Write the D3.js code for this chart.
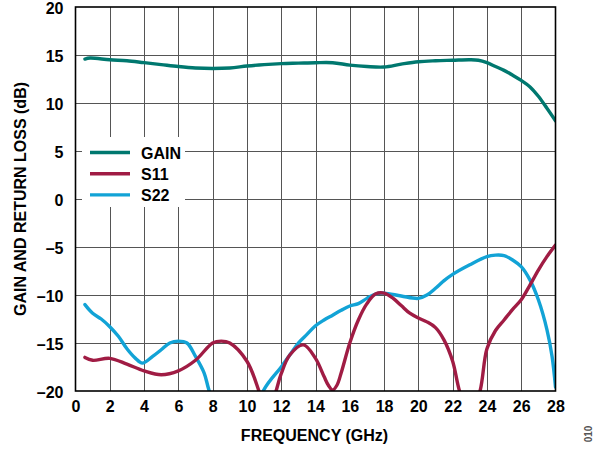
<!DOCTYPE html>
<html>
<head>
<meta charset="utf-8">
<script src="https://cdn.jsdelivr.net/npm/d3@7/dist/d3.min.js"></script>
<style>
  html, body { margin: 0; padding: 0; background: #fff; }
  svg { display: block; }
  text { font-family: "Liberation Sans", Arial, Helvetica, sans-serif; font-weight: bold; }
</style>
</head>
<body>
<script>
// Frequency (GHz) and measured response (dB) for each trace
const gainFreq = [0.55, 0.85, 2, 3, 4, 5, 6, 7, 8, 9, 10, 11, 12, 13, 14, 15, 16, 17, 18, 19, 20, 21, 22, 23, 23.5, 24, 24.5, 25, 25.5, 26, 26.5, 27, 27.5, 28];
const gainDb   = [14.58, 14.68, 14.5, 14.4, 14.2, 14.0, 13.8, 13.65, 13.6, 13.65, 13.85, 14.0, 14.1, 14.15, 14.2, 14.2, 13.95, 13.8, 13.75, 14.05, 14.3, 14.4, 14.45, 14.5, 14.45, 14.2, 13.8, 13.4, 12.9, 12.35, 11.7, 10.7, 9.45, 8.15];

const s11Freq = [0.55, 1, 2, 3, 4, 5, 6, 7, 8, 8.5, 9, 10, 10.7, 11.2, 11.7, 12, 12.5, 13.3, 14, 14.5, 14.75, 15, 15.25, 15.5, 16, 16.5, 17, 17.5, 18, 18.5, 19, 19.5, 20, 20.5, 21, 21.5, 22, 22.4, 23.0, 23.6, 24, 24.5, 25, 25.5, 26, 26.5, 27, 27.5, 28];
const s11Db   = [-16.5, -16.8, -16.6, -17.2, -17.9, -18.3, -17.9, -16.8, -15.0, -14.8, -15.0, -16.9, -20.0, -23, -20.0, -18.2, -16.25, -15.2, -16.6, -18.5, -19.4, -19.9, -19.4, -18.1, -15.0, -12.6, -10.9, -9.9, -9.8, -10.3, -11.1, -11.9, -12.4, -12.8, -13.4, -14.7, -16.9, -20, -23, -20, -15.6, -13.7, -12.6, -11.5, -10.5, -9.0, -7.4, -6.0, -4.8];

const s22Freq = [0.55, 1, 1.5, 2, 2.5, 3, 3.5, 3.9, 4.5, 5, 5.5, 6, 6.5, 7, 7.5, 7.8, 9.4, 10.95, 12, 12.5, 13, 13.5, 14, 14.5, 15, 15.5, 16, 16.5, 17, 17.5, 18, 19, 20, 20.5, 21, 21.5, 22, 23, 24, 24.5, 25, 25.5, 26, 26.5, 27, 27.5, 27.8, 28];
const s22Db   = [-11.0, -11.9, -12.5, -13.3, -14.3, -15.6, -16.6, -17.1, -16.4, -15.7, -15.0, -14.8, -15.0, -16.4, -18.1, -20, -28, -20, -17.5, -16.25, -15.0, -14.1, -13.2, -12.6, -12.1, -11.6, -11.15, -10.9, -10.35, -9.9, -9.8, -10.1, -10.35, -10.0, -9.3, -8.5, -7.85, -6.85, -6.0, -5.85, -5.9, -6.35, -7.05, -8.4, -10.5, -13.6, -16.4, -19.6];

const xTicks = [0, 2, 4, 6, 8, 10, 12, 14, 16, 18, 20, 22, 24, 26, 28];
const yTicks = [-20, -15, -10, -5, 0, 5, 10, 15, 20];

const seriesNames  = ["GAIN", "S11", "S22"];
const seriesColors = ["#00786F", "#A01C44", "#12A3D6"];

const W = 598, H = 449;
const plot = { left: 75.5, right: 555.5, top: 7, bottom: 391 };
const fontSize = 16;

const svg = d3.select("body").append("svg").attr("width", W).attr("height", H);

const x = d3.scaleLinear().domain([0, 28]).range([plot.left, plot.right]);
const y = d3.scaleLinear().domain([-20, 20]).range([plot.bottom, plot.top]);

// grid
const grid = svg.append("g").attr("stroke", "#555").attr("stroke-width", 1);
grid.selectAll("line.v").data(xTicks.slice(1, -1)).join("line")
  .attr("x1", d => Math.round(x(d)) + 0.5).attr("x2", d => Math.round(x(d)) + 0.5)
  .attr("y1", plot.top).attr("y2", plot.bottom);
grid.selectAll("line.h").data(yTicks.slice(1, -1)).join("line")
  .attr("x1", plot.left).attr("x2", plot.right)
  .attr("y1", d => Math.round(y(d)) + 0.5).attr("y2", d => Math.round(y(d)) + 0.5);

// axes (labels only; frame drawn separately)
const fmt = d => d < 0 ? "\u2013" + Math.abs(d) : String(d);
const xAxis = svg.append("g").attr("transform", `translate(0,${plot.bottom})`)
  .call(d3.axisBottom(x).tickValues(xTicks).tickSize(0).tickPadding(10).tickFormat(fmt));
const yAxis = svg.append("g").attr("transform", `translate(${plot.left},1.5)`)
  .call(d3.axisLeft(y).tickValues(yTicks).tickSize(0).tickPadding(12).tickFormat(fmt));
[xAxis, yAxis].forEach(a => {
  a.select(".domain").remove();
  a.selectAll("text").attr("font-size", fontSize).attr("font-weight", "bold")
    .attr("font-family", "'Liberation Sans', Arial, sans-serif").attr("fill", "#000");
});

// traces
svg.append("clipPath").attr("id", "plotClip").append("rect")
  .attr("x", plot.left).attr("y", plot.top)
  .attr("width", plot.right - plot.left).attr("height", plot.bottom - plot.top);

const line = d3.line().x(d => x(d[0])).y(d => y(d[1])).curve(d3.curveCatmullRom.alpha(0.5));
const series = [
  d3.zip(gainFreq, gainDb),
  d3.zip(s11Freq, s11Db),
  d3.zip(s22Freq, s22Db)
];
const traces = svg.append("g").attr("clip-path", "url(#plotClip)");
// draw S22 first, then S11, then gain on top
[2, 1, 0].forEach(i => {
  traces.append("path").datum(series[i])
    .attr("fill", "none").attr("stroke", seriesColors[i])
    .attr("stroke-width", 3.4).attr("stroke-linejoin", "round").attr("stroke-linecap", "round")
    .attr("d", line);
});

// legend
const lg = svg.append("g");
lg.append("rect").attr("x", 82).attr("y", 137).attr("width", 103).attr("height", 70).attr("fill", "#fff");
seriesNames.forEach((name, i) => {
  const cy = 152.5 + i * 21.2;
  lg.append("line").attr("x1", 90).attr("x2", 130).attr("y1", cy).attr("y2", cy)
    .attr("stroke", seriesColors[i]).attr("stroke-width", 3.4);
  lg.append("text").attr("x", 141).attr("y", cy + 6).attr("font-size", fontSize).attr("fill", "#000").text(name);
});

// frame
svg.append("rect").attr("x", plot.left).attr("y", plot.top)
  .attr("width", plot.right - plot.left).attr("height", plot.bottom - plot.top)
  .attr("fill", "none").attr("stroke", "#000").attr("stroke-width", 1.6);

// axis titles
svg.append("text").attr("x", (plot.left + plot.right) / 2 - 1).attr("y", 441)
  .attr("text-anchor", "middle").attr("font-size", fontSize).attr("fill", "#000").text("FREQUENCY (GHz)");
svg.append("text").attr("transform", `translate(25.5,${(plot.top + plot.bottom) / 2}) rotate(-90)`)
  .attr("text-anchor", "middle").attr("font-size", fontSize).attr("fill", "#000").text("GAIN AND RETURN LOSS (dB)");

// figure id
svg.append("text").attr("transform", "translate(592,434) rotate(-90)")
  .attr("text-anchor", "middle").attr("font-size", 10).attr("font-weight", "normal")
  .attr("fill", "#555").text("010");
</script>
</body>
</html>
